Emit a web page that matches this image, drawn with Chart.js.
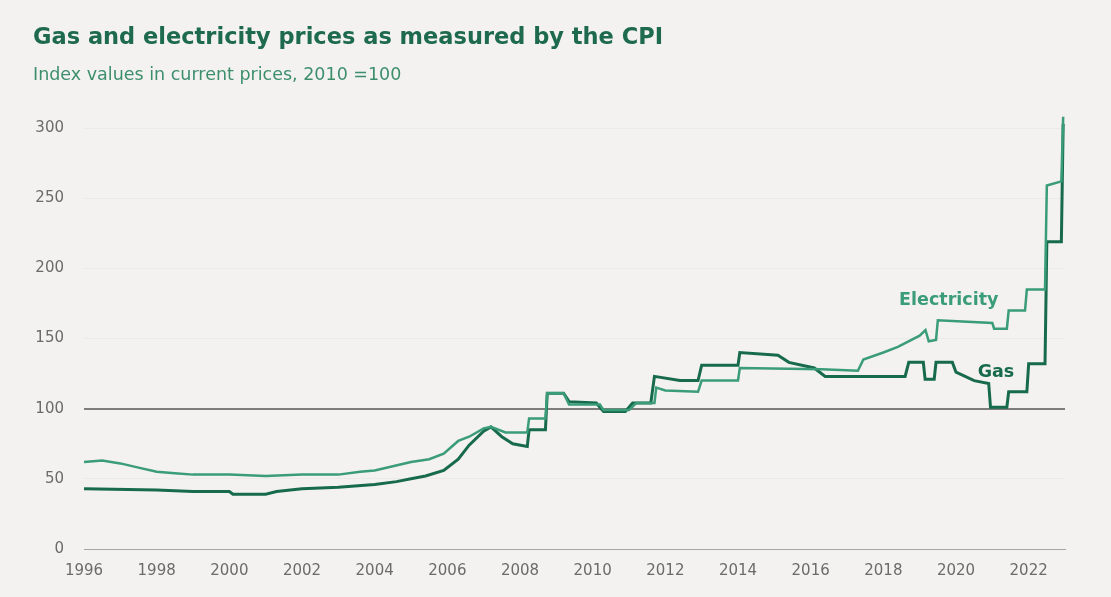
<!DOCTYPE html>
<html>
<head>
<meta charset="utf-8">
<script src="https://cdn.jsdelivr.net/npm/chart.js@4.4.1/dist/chart.umd.min.js"></script>
<style>
  html, body { margin: 0; padding: 0; background: #f3f2f0; }
  #wrap { width: 1111px; height: 597px; }
</style>
</head>
<body>
<div id="wrap"><canvas id="chart" width="1111" height="597"></canvas></div>
<script>
// (index, 2010 = 100)
const elYears = [1996.0, 1996.5, 1997.0, 1997.5, 1998.0, 1998.5, 1999.0, 2000.0, 2001.0, 2002.0, 2003.0, 2003.6, 2004.0, 2004.5, 2005.0, 2005.5, 2005.9, 2006.3, 2006.6, 2007.0, 2007.2, 2007.6, 2008.2, 2008.25, 2008.7, 2008.75, 2009.2, 2009.35, 2010.2, 2010.3, 2011.0, 2011.2, 2011.7, 2011.75, 2012.0, 2012.9, 2013.0, 2014.0, 2014.05, 2016.3, 2017.3, 2017.45, 2018.0, 2018.4, 2019.0, 2019.16, 2019.25, 2019.45, 2019.5, 2021.0, 2021.05, 2021.4, 2021.45, 2021.9, 2021.95, 2022.45, 2022.5, 2022.9, 2022.95];
const elValues = [62, 63, 61, 58, 55, 54, 53, 53, 52, 53, 53, 55, 56, 59, 62, 64, 68, 77, 80, 86, 87, 83, 83, 93, 93, 111, 111, 103, 103, 99, 99, 104, 104, 115, 113, 112, 120, 120, 129, 128, 127, 135, 140, 144, 152, 156, 148, 149, 163, 161, 157, 157, 170, 170, 185, 185, 259, 262, 308];

const gasYears = [1996.0, 1998.0, 1999.0, 2000.0, 2000.1, 2001.0, 2001.3, 2002.0, 2003.0, 2004.0, 2004.6, 2005.0, 2005.4, 2005.9, 2006.3, 2006.6, 2007.0, 2007.2, 2007.5, 2007.8, 2008.2, 2008.25, 2008.7, 2008.75, 2009.2, 2009.35, 2010.1, 2010.3, 2010.9, 2011.1, 2011.6, 2011.7, 2012.4, 2012.9, 2013.0, 2014.0, 2014.05, 2015.1, 2015.4, 2016.1, 2016.4, 2018.6, 2018.7, 2019.1, 2019.15, 2019.4, 2019.45, 2019.9, 2020.0, 2020.5, 2020.9, 2020.95, 2021.4, 2021.45, 2021.95, 2022.0, 2022.45, 2022.5, 2022.9, 2022.95];
const gasValues = [43, 42, 41, 41, 39, 39, 41, 43, 44, 46, 48, 50, 52, 56, 64, 74, 84, 87, 80, 75, 73, 85, 85, 111, 111, 105, 104, 98, 98, 104, 104, 123, 120, 120, 131, 131, 140, 138, 133, 129, 123, 123, 133, 133, 121, 121, 133, 133, 126, 120, 118, 101, 101, 112, 112, 132, 132, 219, 219, 303];

const xTicks = [1996, 1998, 2000, 2002, 2004, 2006, 2008, 2010, 2012, 2014, 2016, 2018, 2020, 2022];
const yTicks = [0, 50, 100, 150, 200, 250, 300];

const elColor = "#3a9c79";
const gasColor = "#176b4b";
const font = "'DejaVu Sans', sans-serif";

function toPoints(xs, ys) {
  return xs.map((x, i) => ({ x: x, y: ys[i] }));
}

// series labels next to the lines
const lineLabels = {
  id: "lineLabels",
  afterDatasetsDraw(c) {
    const ctx = c.ctx;
    const x = c.scales.x;
    const y = c.scales.y;
    ctx.save();
    ctx.font = "bold 17.5px " + font;
    ctx.textAlign = "center";
    ctx.textBaseline = "middle";
    ctx.fillStyle = elColor;
    ctx.fillText("Electricity", x.getPixelForValue(2019.8), y.getPixelForValue(177));
    ctx.fillStyle = gasColor;
    ctx.fillText("Gas", x.getPixelForValue(2021.1), y.getPixelForValue(126));
    ctx.restore();
  }
};

const chart = new Chart(document.getElementById("chart"), {
  type: "line",
  data: {
    datasets: [
      {
        label: "Electricity",
        data: toPoints(elYears, elValues),
        borderColor: elColor,
        borderWidth: 2.5,
        pointRadius: 0,
        tension: 0,
        clip: false
      },
      {
        label: "Gas",
        data: toPoints(gasYears, gasValues),
        borderColor: gasColor,
        borderWidth: 3,
        pointRadius: 0,
        tension: 0,
        clip: false
      }
    ]
  },
  options: {
    responsive: false,
    animation: false,
    layout: { padding: { left: 33, right: 46, top: 0, bottom: 0 } },
    plugins: {
      legend: { display: false },
      tooltip: { enabled: false },
      title: {
        display: true,
        text: "Gas and electricity prices as measured by the CPI",
        align: "start",
        color: "#1e6a4e",
        font: { family: font, size: 22.5, weight: "bold" },
        padding: { top: 25, bottom: 8 }
      },
      subtitle: {
        display: true,
        text: "Index values in current prices, 2010 =100",
        align: "start",
        color: "#3d8f6c",
        font: { family: font, size: 17.5 },
        padding: { top: 5, bottom: 42 }
      }
    },
    scales: {
      x: {
        type: "linear",
        min: 1996,
        max: 2023,
        afterBuildTicks: s => { s.ticks = xTicks.map(v => ({ value: v })); },
        afterFit: s => { s.height = 48; },
        grid: { display: false, drawTicks: false },
        border: { display: true, color: "#a5a5a5", width: 1 },
        ticks: {
          color: "#6b6b6b",
          padding: 13,
          maxRotation: 0,
          font: { family: font, size: 15 },
          callback: v => String(v)
        }
      },
      y: {
        min: 0,
        max: 300,
        afterBuildTicks: s => { s.ticks = yTicks.map(v => ({ value: v })); },
        afterFit: s => { s.width = 51; },
        grid: {
          drawTicks: false,
          color: ctx => ctx.tick && ctx.tick.value === 100 ? "#7d7d7d" : (ctx.tick && ctx.tick.value === 0 ? "rgba(0,0,0,0)" : "#ebeae7"),
          lineWidth: ctx => ctx.tick && ctx.tick.value === 100 ? 2 : 1
        },
        border: { display: false },
        ticks: {
          color: "#6b6b6b",
          padding: 20,
          font: { family: font, size: 15 }
        }
      }
    }
  },
  plugins: [lineLabels, {
    id: "bg",
    beforeDraw(c) {
      c.ctx.save();
      c.ctx.fillStyle = "#f3f2f0";
      c.ctx.fillRect(0, 0, c.width, c.height);
      c.ctx.restore();
    }
  }]
});
</script>
</body>
</html>
